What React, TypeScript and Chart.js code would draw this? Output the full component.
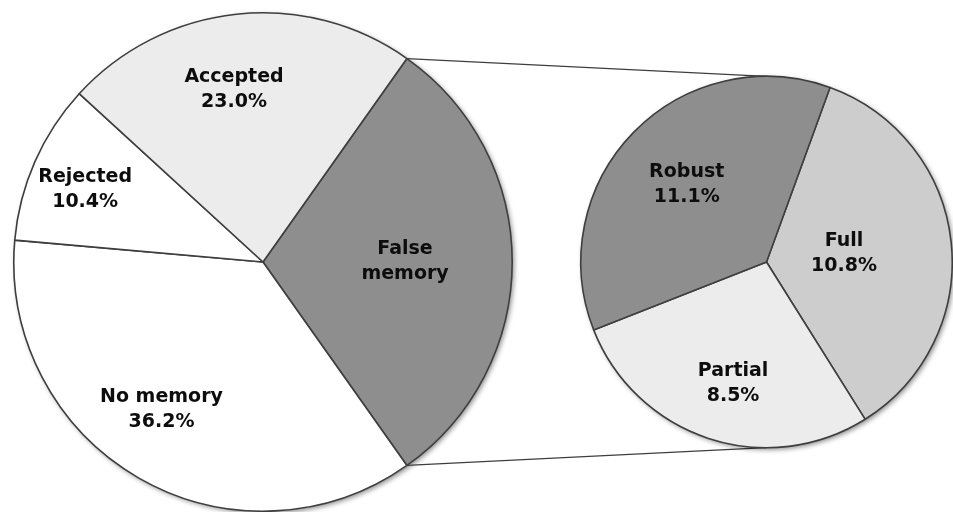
import React, { useEffect, useRef } from "react";
import { Chart, registerables } from "chart.js";
Chart.register(...registerables);

// ---- data ----
const mainCategories = ["False memory", "No memory", "Rejected", "Accepted"];
const mainValues = [30.4, 36.2, 10.4, 23.0];
const subCategories = ["Full", "Partial", "Robust"];
const subValues = [10.8, 8.5, 11.1];

// ---- styles ----
const mainColors = ["#8e8e8e", "#ffffff", "#ffffff", "#ececec"];
const subColors = ["#cdcdcd", "#ececec", "#8e8e8e"];
const borderCol = "#3e3e3e";
const FONT = "bold 19px 'DejaVu Sans', sans-serif";
const mainLabelRadius = [0.57, 0.72, 0.77, 0.7];
const mainLabelShift = [0, 0.08, -0.03, -0.06];
const subLabelRadius = [0.42, 0.68, 0.6];
const subLabelShift = [0, -0.05, 0];

function labelLines(name: string, value: number, isGroup: boolean): string[] {
  if (isGroup) return name.split(" ");
  return [name, value.toFixed(1) + "%"];
}

function makeLabelPlugin(id: string, names: string[], values: number[], radius: number[], shift: number[], groupIndex: number) {
  return {
    id,
    afterDatasetsDraw(chart: any) {
      const meta = chart.getDatasetMeta(0);
      const ctx = chart.ctx;
      ctx.save();
      ctx.font = FONT;
      ctx.fillStyle = "#0d0d0d";
      ctx.textAlign = "center";
      ctx.textBaseline = "middle";
      meta.data.forEach((arc: any, i: number) => {
        const p = arc.getProps(["x", "y", "startAngle", "endAngle", "outerRadius"], true);
        const mid = (p.startAngle + p.endAngle) / 2 + shift[i];
        const r = p.outerRadius * radius[i];
        const cx = p.x + Math.cos(mid) * r;
        const cy = p.y + Math.sin(mid) * r;
        const lines = labelLines(names[i], values[i], i === groupIndex);
        lines.forEach((t, k) => ctx.fillText(t, cx, cy + (k - (lines.length - 1) / 2) * 25));
      });
      ctx.restore();
    },
  };
}

const shadowPlugin = {
  id: "pieShadow",
  beforeDatasetsDraw(chart: any) {
    const arc = chart.getDatasetMeta(0).data[0];
    if (!arc) return;
    const p = arc.getProps(["x", "y", "outerRadius"], true);
    const ctx = chart.ctx;
    ctx.save();
    ctx.shadowColor = "rgba(0,0,0,0.45)";
    ctx.shadowBlur = 5;
    ctx.shadowOffsetX = 2;
    ctx.shadowOffsetY = 2;
    ctx.fillStyle = "#ffffff";
    ctx.beginPath();
    ctx.arc(p.x, p.y, p.outerRadius, 0, Math.PI * 2);
    ctx.fill();
    ctx.restore();
  },
};

export default function App() {
  const mainRef = useRef<HTMLCanvasElement>(null);
  const subRef = useRef<HTMLCanvasElement>(null);

  useEffect(() => {
    const subChart = new Chart(subRef.current!, {
      type: "pie",
      data: {
        labels: subCategories,
        datasets: [{ data: subValues, backgroundColor: subColors, borderColor: borderCol, borderWidth: 1.6 }],
      },
      options: {
        responsive: false,
        animation: false,
        devicePixelRatio: 1,
        rotation: 20,
        layout: { padding: { left: 580, right: 0, top: 75, bottom: 63 } },
        plugins: { legend: { display: false }, tooltip: { enabled: false } },
      },
      plugins: [shadowPlugin, makeLabelPlugin("subLabels", subCategories, subValues, subLabelRadius, subLabelShift, -1)],
    } as any);

    const connector = {
      id: "connector",
      afterDatasetsDraw(chart: any) {
        const arc = chart.getDatasetMeta(0).data[0];
        const sArc = subChart.getDatasetMeta(0).data[0] as any;
        if (!arc || !sArc) return;
        const p = arc.getProps(["x", "y", "startAngle", "endAngle", "outerRadius"], true);
        const s = sArc.getProps(["x", "y", "outerRadius"], true);
        const ctx = chart.ctx;
        ctx.save();
        ctx.strokeStyle = "#3e3e3e";
        ctx.lineWidth = 1.2;
        ctx.beginPath();
        ctx.moveTo(p.x + Math.cos(p.startAngle) * p.outerRadius, p.y + Math.sin(p.startAngle) * p.outerRadius);
        ctx.lineTo(s.x, s.y - s.outerRadius);
        ctx.moveTo(p.x + Math.cos(p.endAngle) * p.outerRadius, p.y + Math.sin(p.endAngle) * p.outerRadius);
        ctx.lineTo(s.x, s.y + s.outerRadius);
        ctx.stroke();
        ctx.restore();
      },
    };

    const total = mainValues.reduce((a, b) => a + b, 0);
    const mainChart = new Chart(mainRef.current!, {
      type: "pie",
      data: {
        labels: mainCategories,
        datasets: [{ data: mainValues, backgroundColor: mainColors, borderColor: borderCol, borderWidth: 1.6 }],
      },
      options: {
        responsive: false,
        animation: false,
        devicePixelRatio: 1,
        rotation: 90 - (mainValues[0] / total) * 180,
        layout: { padding: { left: 13, right: 440, top: 12, bottom: 0 } },
        plugins: { legend: { display: false }, tooltip: { enabled: false } },
      },
      plugins: [shadowPlugin, connector, makeLabelPlugin("mainLabels", mainCategories, mainValues, mainLabelRadius, mainLabelShift, 0)],
    } as any);

    return () => {
      mainChart.destroy();
      subChart.destroy();
    };
  }, []);

  return (
    <div style={{ position: "fixed", left: 0, top: 0, width: 953, height: 512, background: "#ffffff", overflow: "hidden" }}>
      <canvas ref={mainRef} width={953} height={512} style={{ position: "absolute", left: 0, top: 0 }} />
      <canvas ref={subRef} width={953} height={512} style={{ position: "absolute", left: 0, top: 0 }} />
    </div>
  );
}
